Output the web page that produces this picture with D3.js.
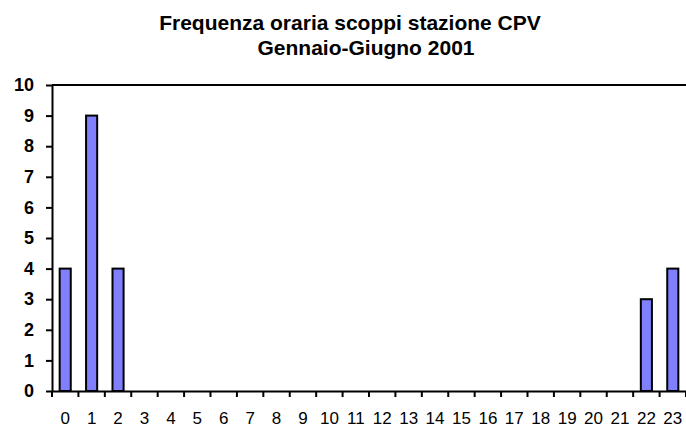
<!DOCTYPE html>
<html><head><meta charset="utf-8">
<script src="https://cdn.jsdelivr.net/npm/d3@7"></script>
<style>body{margin:0;background:#fff}svg{display:block}text{font-family:"Liberation Sans",Arial,sans-serif}</style>
</head><body>
<svg id="c" width="686" height="429"></svg>
<script>
const categories = ["0","1","2","3","4","5","6","7","8","9","10","11","12","13","14","15","16","17","18","19","20","21","22","23"];
const values = [4,9,4,0,0,0,0,0,0,0,0,0,0,0,0,0,0,0,0,0,0,0,3,4];
const yTicks = [0,1,2,3,4,5,6,7,8,9,10];
const titleLines = ["Frequenza oraria scoppi stazione CPV","Gennaio-Giugno 2001"];

const svg = d3.select("#c");
const mLeft = 52, mRight = 686, mTop = 85, mBottom = 391;
const x = d3.scaleBand().domain(categories).range([mLeft, mRight]).paddingInner(0).paddingOuter(0);
const y = d3.scaleLinear().domain([0,10]).range([mBottom, mTop]);

const titleX = [350, 366];
svg.selectAll("text.title").data(titleLines).join("text")
  .attr("class","title").attr("x",(d,i)=>titleX[i]).attr("y",(d,i)=>30+i*25)
  .attr("text-anchor","middle").attr("font-size","21px").attr("font-weight","bold").text(d=>d);

const bw = x.bandwidth()*0.42;
svg.append("g").selectAll("rect").data(values.map((v,i)=>({c:categories[i],v})).filter(d=>d.v>0)).join("rect")
  .attr("x",d=>x(d.c)+x.bandwidth()/2-bw/2).attr("width",bw)
  .attr("y",d=>y(d.v)).attr("height",d=>y(0)-y(d.v))
  .attr("fill","#8080ff").attr("stroke","#000").attr("stroke-width",2);

svg.append("line").attr("x1",mLeft).attr("x2",mRight).attr("y1",y(10)).attr("y2",y(10)).attr("stroke","#000").attr("stroke-width",2);

const ya = svg.append("g").attr("transform",`translate(${mLeft},0)`)
  .call(d3.axisLeft(y).tickValues(yTicks).tickSize(6).tickPadding(12).tickSizeOuter(0));
ya.select(".domain").attr("stroke-width",2);
ya.selectAll(".tick line").attr("stroke-width",2);
ya.selectAll("text").attr("font-size","18px").attr("font-weight","bold").attr("fill","#000").attr("font-family","Liberation Sans, Arial, sans-serif");

const xa = svg.append("g").attr("transform",`translate(0,${mBottom})`)
  .call(d3.axisBottom(x).tickSize(0).tickPadding(21).tickSizeOuter(0));
xa.select(".domain").attr("stroke-width",2);
xa.selectAll("text").attr("font-size","17px").attr("fill","#000").attr("font-family","Liberation Sans, Arial, sans-serif");
const bounds = categories.map(c=>x(c)).concat([mRight]);
svg.append("g").selectAll("line").data(bounds).join("line")
  .attr("x1",d=>d).attr("x2",d=>d).attr("y1",mBottom).attr("y2",mBottom+6)
  .attr("stroke","#000").attr("stroke-width",2);
</script>
</body></html>
